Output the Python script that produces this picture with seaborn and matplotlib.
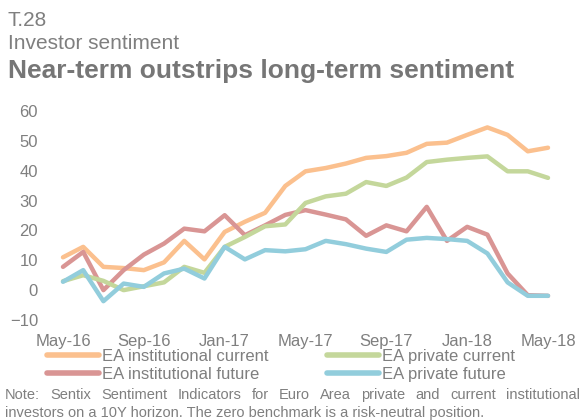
import pandas as pd
import matplotlib.pyplot as plt
import seaborn as sns

months = pd.date_range("2016-05-01", "2018-05-01", freq="MS")
tick_labels = ["May-16", "Sep-16", "Jan-17", "May-17", "Sep-17", "Jan-18", "May-18"]

inst_current = [11, 14.5, 7.8, 7.4, 6.7, 9.3, 16.5, 10.3, 19.5, 22.9, 25.9, 34.9, 39.8,
                40.9, 42.4, 44.3, 44.9, 46, 49, 49.4, 52, 54.5, 52, 46.5, 47.7]
priv_current = [3, 5, 3.1, 0, 1.3, 2.6, 7.8, 5.8, 14.5, 17.8, 21.4, 22, 29.2,
                31.4, 32.3, 36.2, 34.9, 37.7, 42.9, 43.7, 44.3, 44.8, 39.8, 39.8, 37.6]
inst_future = [7.8, 12.8, 0, 6.7, 11.9, 15.6, 20.6, 19.7, 25.1, 18.4, 21.7, 25.2, 26.8,
               25.3, 23.7, 18.2, 21.7, 19.7, 27.9, 16.5, 21.2, 18.6, 5.6, -1.7, -1.9]
priv_future = [2.8, 6.7, -3.7, 2.2, 1.1, 5.6, 7.2, 3.9, 14.5, 10.3, 13.4, 13, 13.7,
               16.5, 15.4, 13.9, 12.8, 16.9, 17.5, 17.1, 16.5, 12.3, 2.6, -1.9, -1.9]

series = {
    "EA institutional current": inst_current,
    "EA institutional future": inst_future,
    "EA private current": priv_current,
    "EA private future": priv_future,
}
colors = {
    "EA institutional current": "#FBC08E",
    "EA institutional future": "#D99594",
    "EA private current": "#C4D79B",
    "EA private future": "#92CDDC",
}

note1 = "Note: Sentix Sentiment Indicators for Euro Area private and current institutional"
note2 = "investors on a 10Y horizon. The zero benchmark is a risk-neutral position."

df = pd.concat(
    [pd.DataFrame({"month": range(len(months)), "value": v, "series": k})
     for k, v in series.items()],
    ignore_index=True,
)

sns.set_style("white")
plt.rcParams["font.family"] = ["Liberation Sans", "DejaVu Sans"]
grey = "#7F7F7F"
W, H = 583, 420

fig = plt.figure(figsize=(5.83, 4.2), dpi=100)
ax = fig.add_axes([63 / W, 100 / H, 485 / W, 209 / H])

sns.lineplot(data=df, x="month", y="value", hue="series", palette=colors,
             linewidth=3.2, ax=ax, legend=False)
for ln in ax.lines:
    ln.set_clip_on(False)
    ln.set_solid_capstyle("round")
    ln.set_solid_joinstyle("round")

ax.set_xlim(0, 24)
ax.set_ylim(-10, 60)
ax.set_xticks(range(0, 25, 4))
ax.set_xticklabels(tick_labels)
ax.set_yticks(range(-10, 61, 10))
ax.tick_params(axis="both", length=0, labelsize=12, labelcolor=grey)
ax.tick_params(axis="y", pad=18)
ax.tick_params(axis="x", pad=10)
ax.set_xlabel("")
ax.set_ylabel("")
sns.despine(ax=ax, left=True, bottom=True)

handles = [plt.Line2D([], [], color=colors[k], lw=4, solid_capstyle="round")
           for k in series]
fig.legend(handles, list(series), ncol=2, loc="upper left",
           bbox_to_anchor=(47 / W, 1 - 349 / H), frameon=False,
           fontsize=12, labelcolor=grey, handlelength=3.1, handletextpad=0.2,
           columnspacing=3.5, labelspacing=0.17, borderaxespad=0, borderpad=0)

fig.text(8 / W, 1 - 26 / H, "T.28", fontsize=15, color=grey, va="baseline")
fig.text(8 / W, 1 - 49 / H, "Investor sentiment", fontsize=15, color=grey, va="baseline")
fig.text(8 / W, 1 - 78 / H, "Near-term outstrips long-term sentiment",
         fontsize=19, fontweight="bold", color="#767676", va="baseline")

# first note line is justified across the figure width
renderer = fig.canvas.get_renderer()
words = note1.split()
items = [fig.text(0, 1 - 399 / H, w, fontsize=10.5, color=grey, va="baseline")
         for w in words]
widths = [t.get_window_extent(renderer).width for t in items]
x0, x1 = 5, 580
gap = (x1 - x0 - sum(widths)) / (len(words) - 1)
x = x0
for t, w in zip(items, widths):
    t.set_x(x / W)
    x += w + gap
fig.text(5 / W, 1 - 417 / H, note2, fontsize=10.5, color=grey, va="baseline")

fig.savefig("out.png", dpi=100)
